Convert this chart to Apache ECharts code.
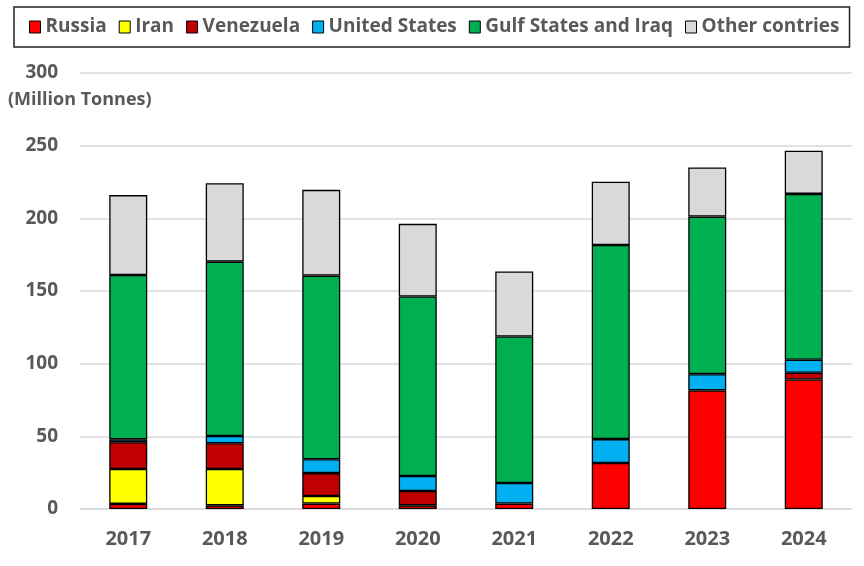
<!DOCTYPE html>
<html>
<head>
<meta charset="utf-8">
<script src="https://cdn.jsdelivr.net/npm/echarts@6/dist/echarts.min.js"></script>
<style>
  html, body { margin: 0; padding: 0; background: #fff; }
  #chart { width: 864px; height: 566px; }
</style>
</head>
<body>
<div id="chart"></div>
<script>
// years on the x axis
const years = ['2017', '2018', '2019', '2020', '2021', '2022', '2023', '2024'];

// million tonnes
const russia     = [3.5, 2.5, 3.7, 2.5, 3.7, 31.6, 81.6, 89.1];
const iran       = [24, 25, 5.2, 0, 0, 0, 0, 0];
const venezuela  = [18.5, 17.7, 15.8, 9.9, 0, 0, 0, 4.6];
const usa        = [2, 5, 9.5, 10.3, 14.2, 16.5, 11.2, 9];
const gulf       = [113, 120, 126.4, 123.5, 100.8, 133.6, 108.4, 114.1];
const other      = [55, 54, 59, 50, 44.7, 43.5, 33.8, 29.7];

const yTicks = [0, 50, 100, 150, 200, 250, 300];

const FONT = 'Open Sans';
const GREY = '#595959';

const chart = echarts.init(document.getElementById('chart'));

function bar(name, data, color) {
  return {
    name: name,
    type: 'bar',
    stack: 'total',
    // empty segments would otherwise leave a stray border line
    data: data.map(v => (v === 0 ? '-' : v)),
    barWidth: 38,
    itemStyle: { color: color, borderColor: '#000', borderWidth: 1.3 },
    emphasis: { disabled: true }
  };
}

chart.setOption({
  animation: false,
  legend: {
    left: 14,
    top: 7,
    padding: [9, 10, 9, 15],
    borderColor: '#222',
    borderWidth: 1.5,
    itemGap: 12,
    itemWidth: 11,
    itemHeight: 12,
    icon: 'rect',
    itemStyle: { borderColor: '#000', borderWidth: 1 },
    textStyle: { fontFamily: FONT, fontWeight: 'bold', fontSize: 19, color: GREY, lineHeight: 22 }
  },
  grid: { left: 80, right: 12, top: 73, bottom: 57 },
  xAxis: {
    type: 'category',
    data: years,
    axisLine: { lineStyle: { color: '#d9d9d9', width: 1.5 } },
    axisTick: { show: false },
    axisLabel: { fontFamily: FONT, fontWeight: 'bold', fontSize: 20, color: GREY, margin: 20 }
  },
  yAxis: {
    type: 'value',
    min: yTicks[0],
    max: yTicks[yTicks.length - 1],
    interval: 50,
    axisLine: { show: false },
    axisTick: { show: false },
    splitLine: { lineStyle: { color: '#d9d9d9', width: 1.5 } },
    axisLabel: { fontFamily: FONT, fontWeight: 'bold', fontSize: 19, color: GREY, margin: 22 }
  },
  graphic: [{
    type: 'text',
    left: 8,
    top: 91,
    style: { text: '(Million Tonnes)', font: 'bold 18px "Open Sans"', fill: GREY }
  }],
  series: [
    bar('Russia', russia, '#ff0000'),
    bar('Iran', iran, '#ffff00'),
    bar('Venezuela', venezuela, '#c00000'),
    bar('United States', usa, '#00b0f0'),
    bar('Gulf States and Iraq', gulf, '#00b050'),
    bar('Other contries', other, '#d9d9d9')
  ]
});
</script>
</body>
</html>
